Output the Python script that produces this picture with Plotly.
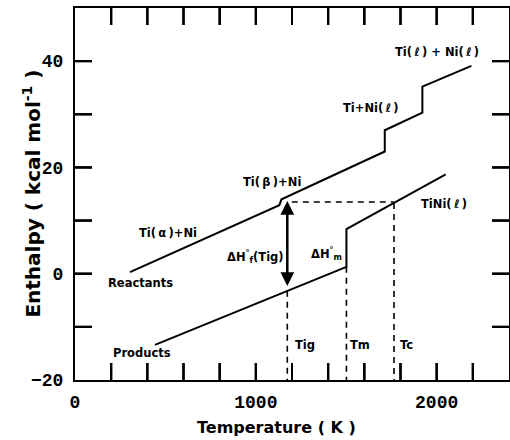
import plotly.graph_objects as go

# ---- data ----
react_T = [304, 1130, 1142, 1713, 1713, 1921, 1921, 2192]
react_H = [0.3, 12.9, 14.0, 23.0, 27.0, 30.3, 35.2, 39.1]

prod_T = [442, 1501, 1501, 2050]
prod_H = [-13.4, 1.3, 8.4, 18.7]

T_ig = 1174
T_m = 1501
T_c = 1764
H_ig_react = 13.7
H_ig_prod = -3.2
H_horiz = 13.5
H_m_bottom = 1.3
H_c = 13.3

x_range = [0, 2400]
y_range = [-20, 50]
x_ticks = list(range(200, 2400, 200))
x_labels = [0, 1000, 2000]
y_ticks = list(range(-10, 50, 10))
y_labels = [-20, 0, 20, 40]

ts = "\u2009"
labels = [
    ("Ti(" + ts + "ℓ" + ts + ") + Ni(" + ts + "ℓ" + ts + ")", 2003, 41.8),
    ("Ti+Ni(" + ts + "ℓ" + ts + ")", 1639, 31.1),
    ("Ti(" + ts + "β" + ts + ")+Ni", 1087, 17.3),
    ("Ti(" + ts + "α" + ts + ")+Ni", 512, 7.6),
    ("Reactants", 363, -1.8),
    ("Products", 369, -15.0),
    ("ΔH<sup>°</sup><sub>f</sub>(Tig)", 1000, 3.2),
    ("ΔH<sup>°</sup><sub>m</sub>", 1388, 3.8),
    ("TiNi(" + ts + "ℓ" + ts + ")", 2039, 13.2),
    ("Tig", 1272, -13.4),
    ("Tm", 1575, -13.4),
    ("Tc", 1833, -13.4),
]

# ---- frame geometry ----
W, H = 510, 440
M = dict(l=75, r=1, t=8, b=60)
plot_w = W - M["l"] - M["r"]
plot_h = H - M["t"] - M["b"]
tick_px = 17
x_tick_len = tick_px * (y_range[1] - y_range[0]) / plot_h   # in H units
y_tick_len = tick_px * (x_range[1] - x_range[0]) / plot_w   # in T units

fig = go.Figure()

# inward tick marks on all four sides, built from the tick arrays
tx, ty = [], []
for v in x_ticks:
    tx += [v, v, None, v, v, None]
    ty += [y_range[0], y_range[0] + x_tick_len, None, y_range[1], y_range[1] - x_tick_len, None]
for v in y_ticks:
    tx += [x_range[0], x_range[0] + y_tick_len, None, x_range[1], x_range[1] - y_tick_len, None]
    ty += [v, v, None, v, v, None]
fig.add_trace(go.Scatter(x=tx, y=ty, mode="lines", line=dict(color="black", width=2),
                         hoverinfo="skip"))

# the same ticks again as line markers
mk = dict(color="black", size=12, line=dict(color="black", width=2))
fig.add_trace(go.Scatter(
    x=x_ticks + x_ticks,
    y=[y_range[0] + x_tick_len / 2] * len(x_ticks) + [y_range[1] - x_tick_len / 2] * len(x_ticks),
    mode="markers", marker=dict(symbol="line-ns", **mk), hoverinfo="skip"))
fig.add_trace(go.Scatter(
    x=[x_range[0] + y_tick_len / 2] * len(y_ticks) + [x_range[1] - y_tick_len / 2] * len(y_ticks),
    y=y_ticks + y_ticks,
    mode="markers", marker=dict(symbol="line-ew", **mk), hoverinfo="skip"))

tick_line = dict(color="black", width=2)
for v in x_ticks:
    fig.add_shape(type="line", xref="x", yref="y", x0=v, x1=v,
                  y0=y_range[0], y1=y_range[0] + x_tick_len, line=tick_line)
    fig.add_shape(type="line", xref="x", yref="y", x0=v, x1=v,
                  y0=y_range[1], y1=y_range[1] - x_tick_len, line=tick_line)
for v in y_ticks:
    fig.add_shape(type="line", xref="x", yref="y", y0=v, y1=v,
                  x0=x_range[0], x1=x_range[0] + y_tick_len, line=tick_line)
    fig.add_shape(type="line", xref="x", yref="y", y0=v, y1=v,
                  x0=x_range[1], x1=x_range[1] - y_tick_len, line=tick_line)

solid = dict(color="black", width=2)
dash = dict(color="black", width=1.6, dash="6px,5px")

fig.add_trace(go.Scatter(x=react_T, y=react_H, mode="lines", line=solid, hoverinfo="skip"))
fig.add_trace(go.Scatter(x=prod_T, y=prod_H, mode="lines", line=solid, hoverinfo="skip"))

# dashed guide lines
fig.add_trace(go.Scatter(x=[T_ig, T_ig], y=[H_ig_prod, y_range[0]], mode="lines", line=dash, hoverinfo="skip"))
fig.add_trace(go.Scatter(x=[T_m, T_m], y=[H_m_bottom, y_range[0]], mode="lines", line=dash, hoverinfo="skip"))
fig.add_trace(go.Scatter(x=[T_c, T_c], y=[H_c, y_range[0]], mode="lines", line=dash, hoverinfo="skip"))
fig.add_trace(go.Scatter(x=[T_ig + 25, T_c], y=[H_horiz, H_horiz], mode="lines", line=dash, hoverinfo="skip"))

# double-headed arrow
fig.add_annotation(x=T_ig, y=H_ig_react, ax=T_ig, ay=H_ig_prod + 0.6, xref="x", yref="y",
                   axref="x", ayref="y", showarrow=True, arrowhead=2, startarrowhead=2,
                   arrowside="end+start", arrowsize=1.1, startarrowsize=1.1, arrowwidth=2.5,
                   arrowcolor="black", text="")

for txt, lx, ly in labels:
    fig.add_annotation(x=lx, y=ly, xref="x", yref="y", text="<b>" + txt + "</b>", showarrow=False,
                       font=dict(family="DejaVu Sans", size=11.5, color="black"))

fig.add_annotation(x=-0.1, y=0.5, xref="paper", yref="paper", textangle=-90, showarrow=False,
                   xanchor="center", yanchor="middle",
                   text="<b>Enthalpy ( kcal mol<sup>-1</sup> )</b>",
                   font=dict(family="DejaVu Sans", size=20, color="black"))
fig.add_annotation(x=0.465, y=-0.129, xref="paper", yref="paper", showarrow=False,
                   xanchor="center", yanchor="middle",
                   text="<b>Temperature ( K )</b>",
                   font=dict(family="DejaVu Sans", size=16, color="black"))

tickfont = dict(family="Liberation Mono", size=18, color="black", weight="bold")

fig.update_layout(
    template="none",
    xaxis=dict(range=x_range, tickmode="array", tickvals=x_labels, ticks="",
               tickfont=tickfont, ticklabelstandoff=4,
               showline=True, linecolor="black", linewidth=2, mirror=True,
               showgrid=False, zeroline=False),
    yaxis=dict(range=y_range, tickmode="array", tickvals=y_labels, ticks="",
               tickfont=tickfont, ticklabelstandoff=6,
               showline=True, linecolor="black", linewidth=2, mirror=True,
               showgrid=False, zeroline=False),
    width=W, height=H, margin=M,
    plot_bgcolor="white", paper_bgcolor="white", showlegend=False)

fig.write_html("out.html")
